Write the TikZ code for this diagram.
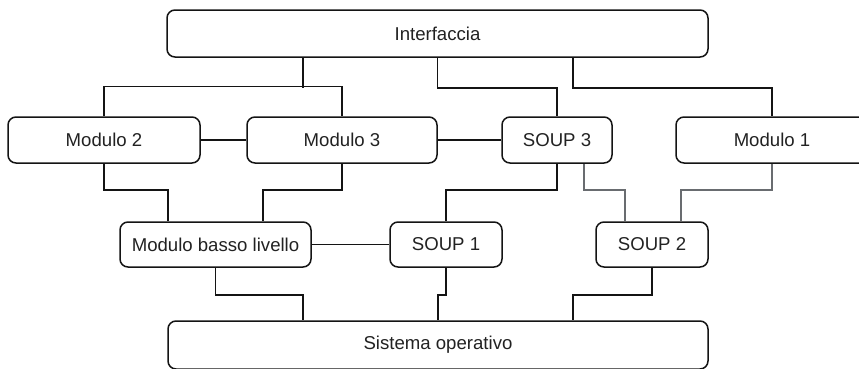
\documentclass[tikz,border=0pt]{standalone}
\usepackage{fontspec}
\setmainfont{Liberation Sans}
\definecolor{edge}{RGB}{20,20,20}
\definecolor{softedge}{RGB}{105,108,112}
\definecolor{label}{RGB}{34,34,34}
\begin{document}
\begin{tikzpicture}[x=1pt,y=-1pt,
  box/.style={draw=edge,line width=1.5pt,rounded corners=8pt,fill=white,
    text=label,font=\fontsize{18.6}{22}\selectfont,inner sep=0pt},
  link/.style={draw=edge,line width=1.5pt},
  softlink/.style={draw=softedge,line width=1.6pt}]
\useasboundingbox (0,0) rectangle (859,368);

% nodes
\node[box,minimum width=541pt,minimum height=47pt] (inter) at (437.5,33.5) {Interfaccia};
\node[box,minimum width=192pt,minimum height=46pt] (m2) at (104,140) {Modulo 2};
\node[box,minimum width=190pt,minimum height=46pt] (m3) at (342,140) {Modulo 3};
\node[box,minimum width=110pt,minimum height=46pt] (s3) at (557,140) {SOUP 3};
\node[box,minimum width=192pt,minimum height=46pt] (m1) at (772,140) {Modulo 1};
\node[box,minimum width=191pt,minimum height=45pt] (mbl) at (215.5,244.5) {Modulo basso livello};
\node[box,minimum width=112pt,minimum height=45pt] (s1) at (446,244.5) {SOUP 1};
\node[box,minimum width=112pt,minimum height=45pt] (s2) at (652,244.5) {SOUP 2};
\node[box,minimum width=540pt,minimum height=48pt] (so) at (438,345) {Sistema operativo};

% interface to upper modules
\draw[link] ([xshift=-134.5pt]inter.south) -- ++(0,30);
\draw[link] (m2.north) -- ++(0,-30) -| (m3.north);
\draw[link] (inter.south) -- ++(0,30) -| (s3.north);
\draw[link] ([xshift=135.5pt]inter.south) -- ++(0,30) -| (m1.north);

% horizontal links
\draw[link] (m2.east) -- (m3.west);
\draw[link] (m3.east) -- (s3.west);
\draw[link] (mbl.east) -- (s1.west);

% upper modules to lower modules
\draw[link] (m2.south) -- ++(0,26) -| ([xshift=-47.5pt]mbl.north);
\draw[link] (m3.south) -- ++(0,26) -| ([xshift=47.5pt]mbl.north);
\draw[link] (s3.south) -- ++(0,26) -| (s1.north);
\draw[softlink] ([xshift=27pt]s3.south) -- ++(0,26) -| ([xshift=-27pt]s2.north);
\draw[softlink] (m1.south) -- ++(0,26) -| ([xshift=29pt]s2.north);

% lower modules to operating system
\draw[link] (mbl.south) -- ++(0,27) -| ([xshift=-135pt]so.north);
\draw[link] (s1.south) -- ++(0,27) -| (so.north);
\draw[link] (s2.south) -- ++(0,27) -| ([xshift=135pt]so.north);
\end{tikzpicture}
\end{document}
